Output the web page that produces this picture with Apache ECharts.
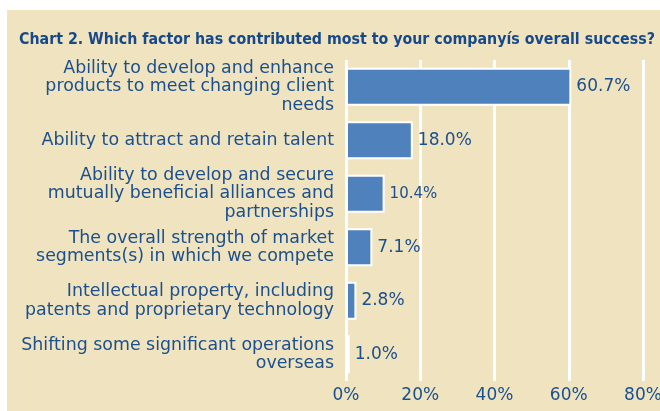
<!DOCTYPE html>
<html><head><meta charset="utf-8">
<script src="https://cdn.jsdelivr.net/npm/echarts@6/dist/echarts.min.js"></script>
<style>html,body{margin:0;padding:0;background:#fff}#c{width:660px;height:411px}</style>
</head><body><div id="c"></div>
<script>
const categories = [
  "Ability to develop and enhance\nproducts to meet changing client\nneeds",
  "Ability to attract and retain talent",
  "Ability to develop and secure\nmutually beneficial alliances and\npartnerships",
  "The overall strength of market\nsegments(s) in which we compete",
  "Intellectual property, including\npatents and proprietary technology",
  "Shifting some significant operations\noverseas"
];
const values = [60.7, 18.0, 10.4, 7.1, 2.8, 1.0];
const labelSizes = [17, 17, 15, 17, 17, 17];
const xTicks = [0, 20, 40, 60, 80];

const blue = '#4F81BD';
const textBlue = '#1B4F8E';
const chart = echarts.init(document.getElementById('c'), null, {renderer:'canvas'});
chart.setOption({
  backgroundColor: '#fff',
  graphic: [{type:'rect', shape:{x:7,y:10,width:653,height:401}, style:{fill:'#EFE4BF'}, z:-10}],
  title: {
    text: 'Chart 2. Which factor has contributed most to your companyís overall success?',
    left: 14, top: 27,
    textStyle: {fontFamily:'DejaVu Sans Condensed', fontWeight:'bold', fontSize:15.8, color:'#17498A'}
  },
  grid: {left: 346, right: 17, top: 60, bottom: 30, containLabel:false, outerBoundsMode:'none'},
  xAxis: {
    type:'value', min:0, max:80, interval:20,
    axisLine:{show:false}, axisTick:{show:false},
    splitLine:{show:true, lineStyle:{color:'#ffffff', width:3}},
    axisLabel:{formatter: v => xTicks.includes(v) ? v + '%' : '', color:textBlue, fontFamily:'DejaVu Sans', fontSize:17, margin:6}
  },
  yAxis: {
    type:'category', inverse:true,
    data: categories.map((c,i) => i === 0 ? {value:c, textStyle:{padding:[5,0,0,0]}} : c),
    axisLine:{show:false}, axisTick:{show:false},
    axisLabel:{color:textBlue, fontFamily:'DejaVu Sans', fontSize:17.4, lineHeight:18.5, margin:12, align:'right'}
  },
  series: [{
    type:'bar', barWidth:'71%',
    data: values.map((v,i)=>({value:v, label:{fontSize:labelSizes[i]}})),
    itemStyle:{color:blue, borderColor:'#ffffff', borderWidth:2},
    label:{show:true, position:'right', distance:5, formatter: p => p.value.toFixed(1) + '%', color:textBlue, fontFamily:'DejaVu Sans'}
  }]
});
</script></body></html>
